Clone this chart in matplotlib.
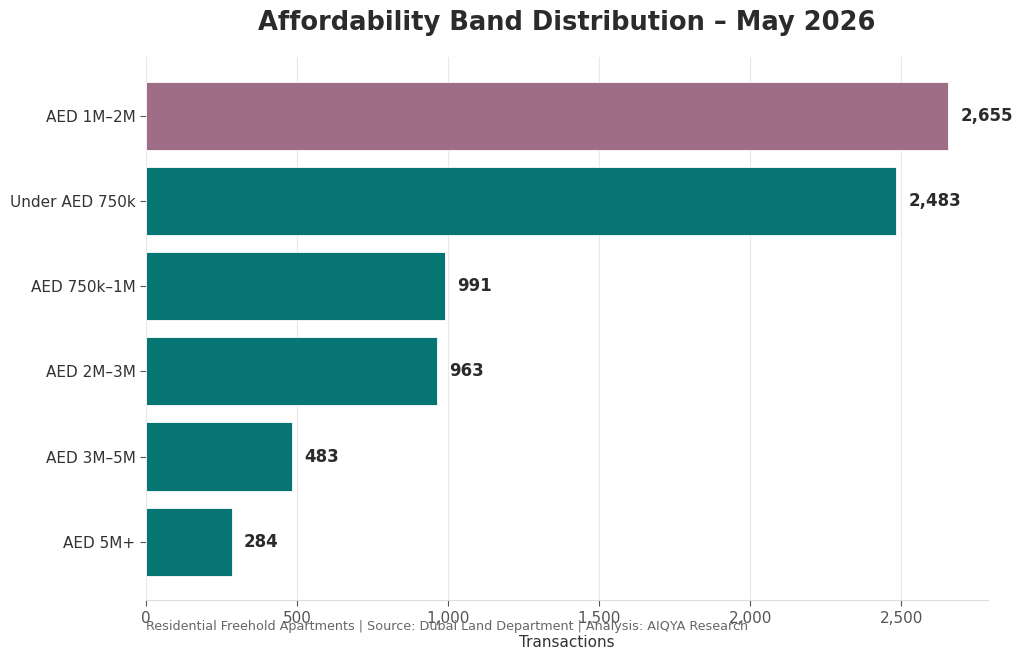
import matplotlib
matplotlib.use('Agg')
import matplotlib.pyplot as plt

bands = ['AED 1M–2M', 'Under AED 750k', 'AED 750k–1M', 'AED 2M–3M', 'AED 3M–5M', 'AED 5M+']
counts = [2655, 2483, 991, 963, 483, 284]
highlight = 'AED 1M–2M'

colors = ['#9c6882' if b == highlight else '#007070' for b in bands]

fig, ax = plt.subplots(figsize=(10.24, 6.59), dpi=100)
fig.subplots_adjust(left=0.1426, right=0.965, top=0.913, bottom=0.089)

ypos = list(range(len(bands)))[::-1]
ax.barh(ypos, counts, height=0.8, color=colors, alpha=0.97,
        edgecolor='white', linewidth=0.6, zorder=2)
ax.set_yticks(ypos)
ax.set_yticklabels(bands, fontsize=11, color='#333333')

for y, v in zip(ypos, counts):
    ax.text(v + 40, y, f'{v:,}', va='center', ha='left', fontsize=12,
            fontweight='bold', color='#2b2b2b')

ax.xaxis.set_major_formatter(matplotlib.ticker.FuncFormatter(lambda x, p: f'{int(x):,}'))
ax.set_xlim(0, 2655 * 1.05)
ax.grid(axis='x', color='#e8e8e8', linewidth=0.8, zorder=0)
ax.set_axisbelow(True)
ax.tick_params(axis='x', labelsize=11, colors='#555555', length=4)
ax.tick_params(axis='y', length=4, color='#555555')
for s in ['top', 'right', 'left']:
    ax.spines[s].set_visible(False)
ax.spines['bottom'].set_color('#dddddd')

ax.set_xlabel('Transactions', fontsize=11, color='#333333', labelpad=7)
ax.set_title('Affordability Band Distribution – May 2026', fontsize=18.5,
             fontweight='bold', color='#2b2b2b', pad=20)
fig.text(0.1426, 0.0486, 'Residential Freehold Apartments | Source: Dubai Land Department | Analysis: AIQYA Research',
         fontsize=9.2, color='#666666', ha='left', va='center')

plt.savefig('out.png', dpi=100)
